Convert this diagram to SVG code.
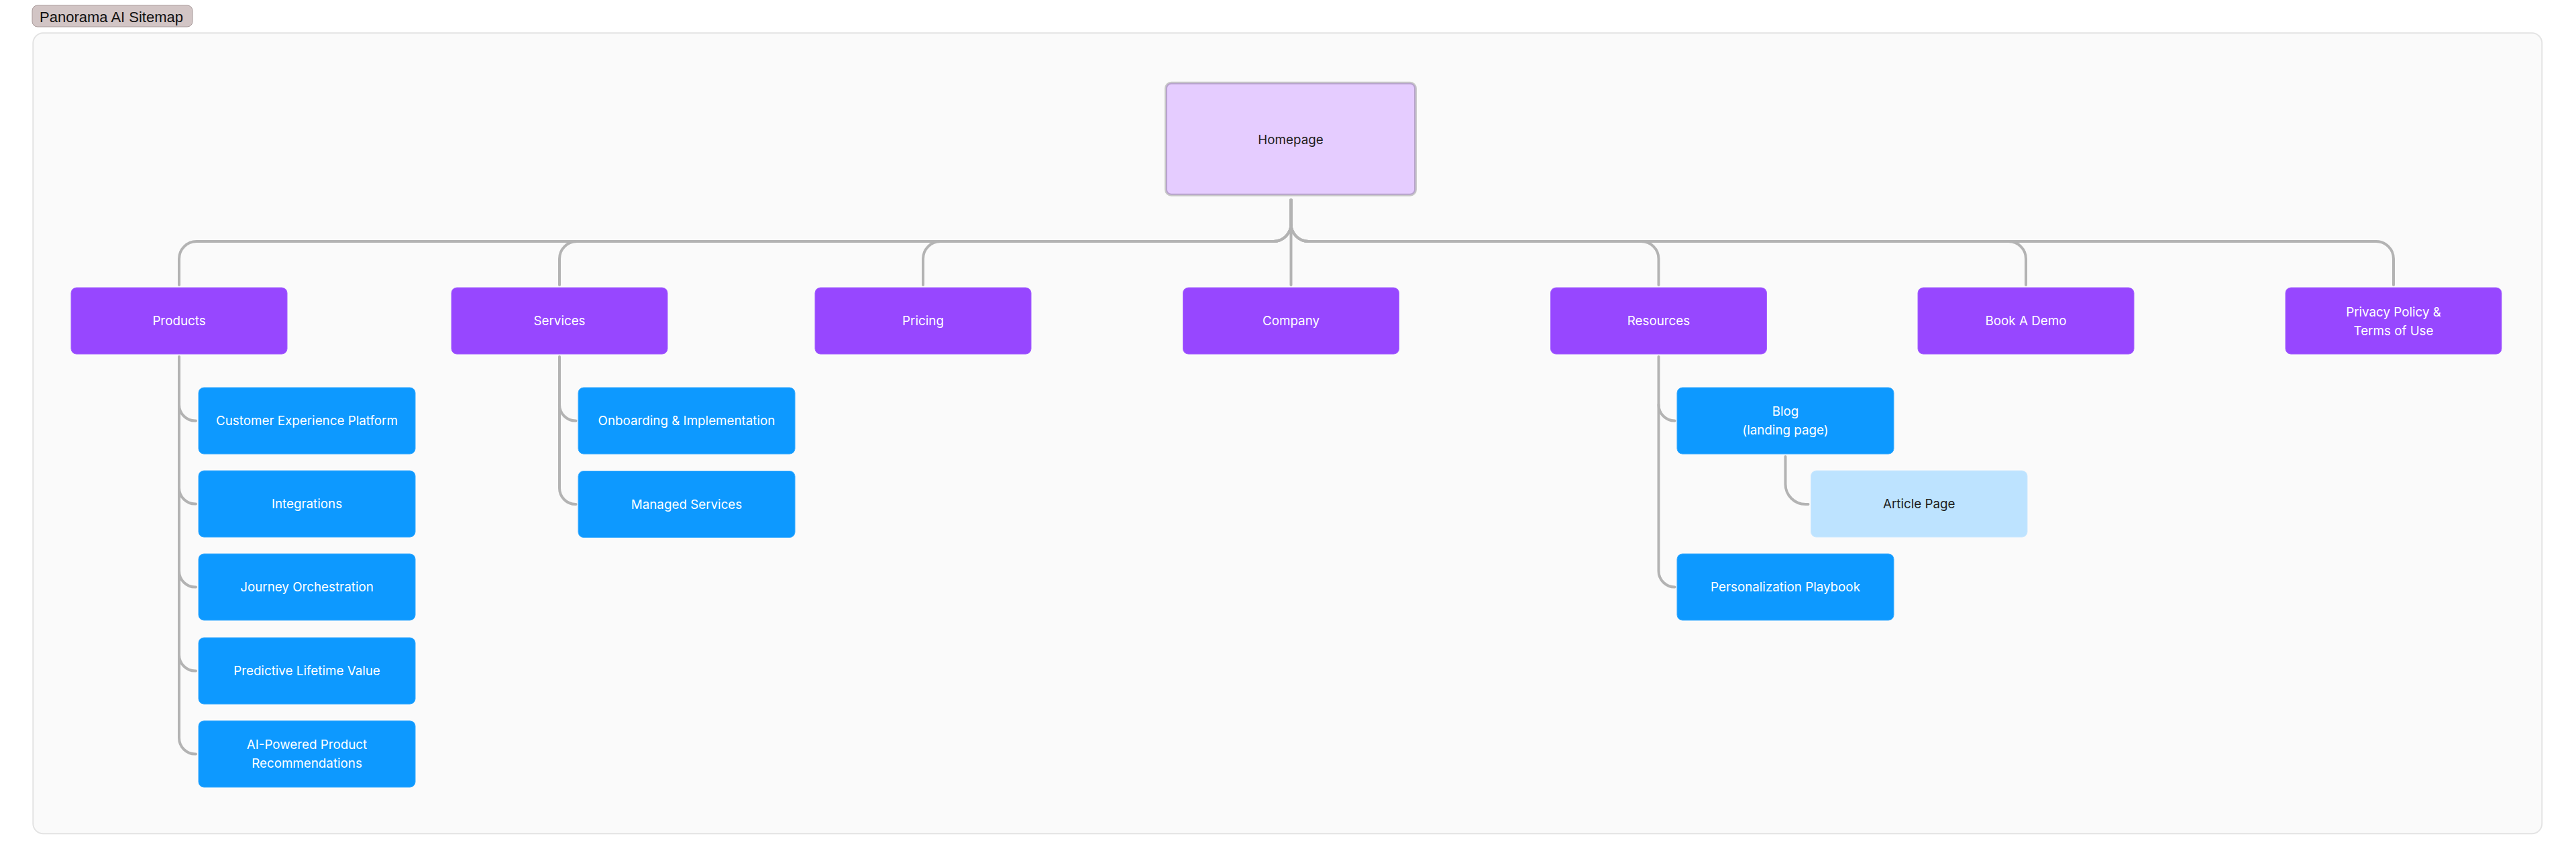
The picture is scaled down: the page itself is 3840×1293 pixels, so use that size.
<svg xmlns="http://www.w3.org/2000/svg" width="3840" height="1293" viewBox="0 0 3840 1293">
<style>
  .lvl1 { fill: #9747ff; stroke: #a463ff; stroke-width: 1; }
  .lvl2 { fill: #0d99ff; stroke: #3aabff; stroke-width: 1; }
  .lvl3 { fill: #bde3ff; stroke: #cde9ff; stroke-width: 1; }
  .t { font-family: Inter, "Liberation Sans", sans-serif; font-size: 18.8px; text-anchor: middle; dominant-baseline: central; }
  .w { fill: #ffffff; }
  .d { fill: #1e1e1e; }
  .conn path { fill: none; stroke: #b3b3b3; stroke-width: 4; stroke-linecap: round; }
</style>
<rect x="0" y="0" width="3840" height="1293" fill="#ffffff"/>
<g id="frame">
  <rect x="49.3" y="49.3" width="3740" height="1194" rx="15" fill="#fafafa" stroke="#e3e3e3" stroke-width="2"/>
  <rect x="48" y="8" width="239" height="32" rx="8" fill="#d2c5c5" stroke="#a99b9b" stroke-width="1"/>
  <text x="59" y="33" font-family="'Liberation Sans', Arial, sans-serif" font-size="22" fill="#111111">Panorama AI Sitemap</text>
</g>
<g class="conn" id="connectors">
  <path d="M1924.5 298 V334 A26 26 0 0 1 1898.5 360 H293 A26 26 0 0 0 267 386 V425"/>
  <path d="M1924.5 298 V334 A26 26 0 0 1 1898.5 360 H860 A26 26 0 0 0 834 386 V425"/>
  <path d="M1924.5 298 V334 A26 26 0 0 1 1898.5 360 H1402 A26 26 0 0 0 1376 386 V425"/>
  <path d="M1924.5 298 V425"/>
  <path d="M1924.5 298 V334 A26 26 0 0 0 1950.5 360 H2446.5 A26 26 0 0 1 2472.5 386 V425"/>
  <path d="M1924.5 298 V334 A26 26 0 0 0 1950.5 360 H2994 A26 26 0 0 1 3020 386 V425"/>
  <path d="M1924.5 298 V334 A26 26 0 0 0 1950.5 360 H3542 A26 26 0 0 1 3568 386 V425"/>
  <path d="M267 532 V1100.5 A24 24 0 0 0 291 1124.5 H292"/>
  <path d="M267 603.5 A24 24 0 0 0 291 627.5 H292"/>
  <path d="M267 727.5 A24 24 0 0 0 291 751.5 H292"/>
  <path d="M267 851.5 A24 24 0 0 0 291 875.5 H292"/>
  <path d="M267 976.5 A24 24 0 0 0 291 1000.5 H292"/>
  <path d="M834 532 V728 A24 24 0 0 0 858 752 H858.5"/>
  <path d="M834 603.5 A24 24 0 0 0 858 627.5 H858.5"/>
  <path d="M2472.5 532 V851.5 A24 24 0 0 0 2496.5 875.5"/>
  <path d="M2472.5 603.5 A24 24 0 0 0 2496.5 627.5"/>
  <path d="M2661.5 681 V722 A30 30 0 0 0 2691.5 752 H2695.5"/>
</g>
<g id="homepage">
  <rect x="1738" y="123.7" width="372" height="167" rx="8" fill="#e5ccff" stroke="rgba(0,0,0,0.2)" stroke-width="4"/>
  <text class="t d" x="1924" y="208">Homepage</text>
</g>
<g id="products">
  <rect class="lvl1" x="106" y="429" width="322" height="99" rx="8"/>
  <text class="t w" x="267" y="478.5">Products</text>
</g>
<g id="services">
  <rect class="lvl1" x="673" y="429" width="322" height="99" rx="8"/>
  <text class="t w" x="834" y="478.5">Services</text>
</g>
<g id="pricing">
  <rect class="lvl1" x="1215" y="429" width="322" height="99" rx="8"/>
  <text class="t w" x="1376" y="478.5">Pricing</text>
</g>
<g id="company">
  <rect class="lvl1" x="1763.5" y="429" width="322" height="99" rx="8"/>
  <text class="t w" x="1924.5" y="478.5">Company</text>
</g>
<g id="resources">
  <rect class="lvl1" x="2311.5" y="429" width="322" height="99" rx="8"/>
  <text class="t w" x="2472.5" y="478.5">Resources</text>
</g>
<g id="book-a-demo">
  <rect class="lvl1" x="2859" y="429" width="322" height="99" rx="8"/>
  <text class="t w" x="3020" y="478.5">Book A Demo</text>
</g>
<g id="privacy">
  <rect class="lvl1" x="3407" y="429" width="322" height="99" rx="8"/>
  <text class="t w" x="3568" y="465">Privacy Policy &amp;</text>
  <text class="t w" x="3568" y="493">Terms of Use</text>
</g>
<g id="cep">
  <rect class="lvl2" x="296" y="578" width="323" height="99" rx="8"/>
  <text class="t w" x="457.5" y="627.5">Customer Experience Platform</text>
</g>
<g id="integrations">
  <rect class="lvl2" x="296" y="702" width="323" height="99" rx="8"/>
  <text class="t w" x="457.5" y="751.5">Integrations</text>
</g>
<g id="journey">
  <rect class="lvl2" x="296" y="826" width="323" height="99" rx="8"/>
  <text class="t w" x="457.5" y="875.5">Journey Orchestration</text>
</g>
<g id="predictive">
  <rect class="lvl2" x="296" y="951" width="323" height="99" rx="8"/>
  <text class="t w" x="457.5" y="1000.5">Predictive Lifetime Value</text>
</g>
<g id="ai-recommendations">
  <rect class="lvl2" x="296" y="1075" width="323" height="99" rx="8"/>
  <text class="t w" x="457.5" y="1110.5">AI-Powered Product</text>
  <text class="t w" x="457.5" y="1138.5">Recommendations</text>
</g>
<g id="onboarding">
  <rect class="lvl2" x="862" y="578" width="323" height="99" rx="8"/>
  <text class="t w" x="1023.5" y="627.5">Onboarding &amp; Implementation</text>
</g>
<g id="managed">
  <rect class="lvl2" x="862" y="702.5" width="323" height="99" rx="8"/>
  <text class="t w" x="1023.5" y="752">Managed Services</text>
</g>
<g id="blog">
  <rect class="lvl2" x="2500" y="578" width="323" height="99" rx="8"/>
  <text class="t w" x="2661.5" y="613.5">Blog</text>
  <text class="t w" x="2661.5" y="641.5">(landing page)</text>
</g>
<g id="article">
  <rect class="lvl3" x="2699.5" y="702" width="322.5" height="99" rx="8"/>
  <text class="t d" x="2860.75" y="751.5">Article Page</text>
</g>
<g id="playbook">
  <rect class="lvl2" x="2500" y="826" width="323" height="99" rx="8"/>
  <text class="t w" x="2661.5" y="875.5">Personalization Playbook</text>
</g>
</svg>
